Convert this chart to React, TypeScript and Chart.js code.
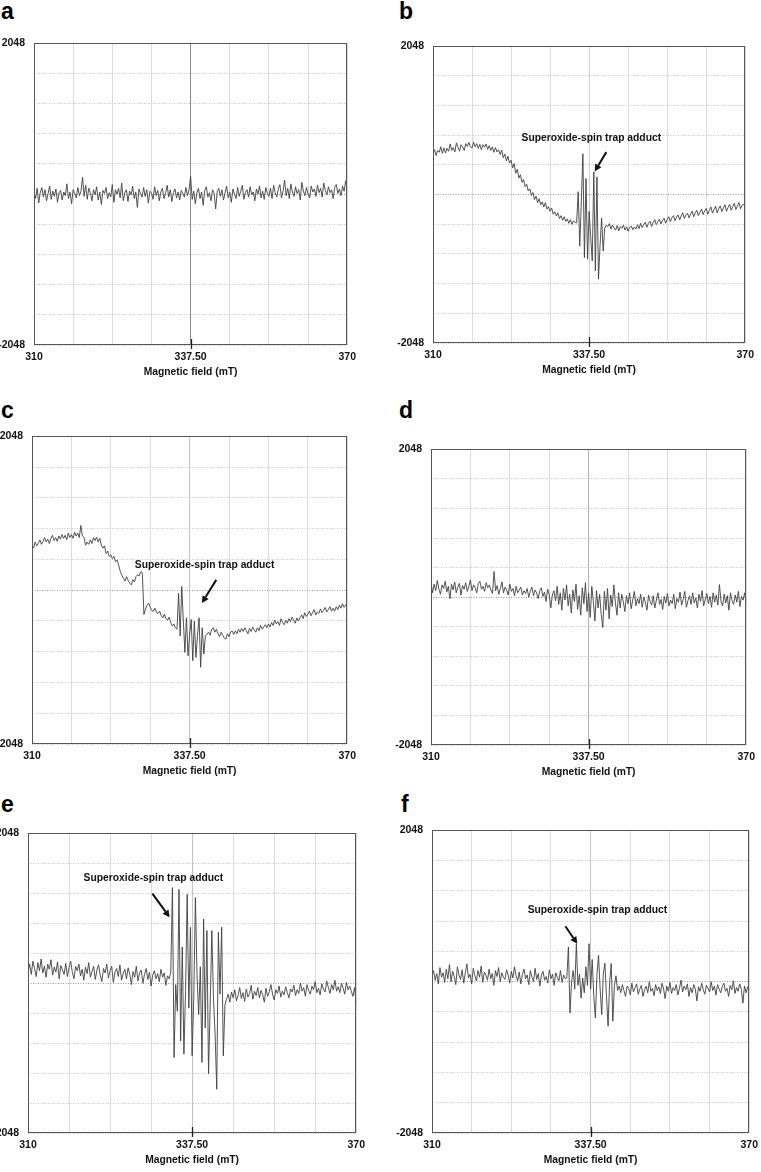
import React, { useEffect, useRef } from 'react';
import { Chart, registerables } from 'chart.js';

Chart.register(...registerables);

// ---------- data ----------
const X_TICK_LABELS = ['310', '337.50', '370'];
const Y_TICK_LABELS = ['-2048', '2048'];
const Y_MIN = -2048;
const Y_MAX = 2048;
const X_TITLE = 'Magnetic field (mT)';
const NOTE_TEXT = 'Superoxide-spin trap adduct';
const PANEL_LETTERS = ['a', 'b', 'c', 'd', 'e', 'f'];

// signal amplitude (a.u.) sampled evenly across the sweep (201 points each)
const SPECTRUM_A = [
  30, -60, 80, -120, 20, 90, -40, 60, -90, 10, 110, -70, 40, -30, 70, -110, 20, 50, -80, 30,
  -20, 140, -60, 30, -130, 60, 10, -50, 90, -20, 40, 230, -30, 120, -70, 80, 20, -90, 60, -10,
  100, -80, 30, -140, 50, 10, 90, -60, 20, -40, 130, -110, 60, 0, 80, -50, 150, -90, 20, 60,
  -100, 40, -10, 110, -60, 30, -180, 70, 10, -40, 90, -30, 60, -120, 40, 20, -70, 100, -20, 50,
  -90, 30, 80, -60, 10, 120, -40, 60, -100, 20, 70, -50, 30, -80, 50, 10, -40, 90, -20, 60,
  240, -70, 40, -130, 20, 80, -60, 30, -150, 50, 100, -40, 20, -90, 60, 10, -200, 40, 80, -30,
  60, -80, 20, 110, -50, 30, -110, 70, 0, -60, 90, -30, 40, 120, -70, 20, 60, -40, 100, -10,
  30, -90, 70, 0, 110, -50, 40, -70, 90, 10, -30, 80, -60, 120, 20, -40, 70, 130, -50, 40,
  190, -20, 80, -60, 140, 30, -30, 100, 10, 60, -80, 160, 40, -20, 90, 0, -50, 110, 30, 70,
  -30, 120, 20, 80, -40, 150, 50, -10, 100, 20, 60, -60, 90, 130, 10, 70, -20, 110, 40, 180,
  60,
];

const SPECTRUM_B = [
  560, 620, 540, 610, 585, 660, 570, 645, 575, 640, 600, 700, 610, 650, 590, 715, 655, 600, 690, 660,
  610, 705, 665, 720, 660, 645, 725, 660, 705, 640, 695, 620, 690, 655, 700, 625, 675, 610, 660, 585,
  650, 590, 620, 555, 615, 510, 560, 465, 530, 435, 475, 370, 430, 295, 350, 230, 275, 170, 210, 110,
  145, 50, 80, -10, 30, -70, -20, -110, -55, -140, -100, -170, -110, -200, -165, -230, -185, -270, -235, -295,
  -250, -330, -290, -355, -305, -370, -335, -395, -345, -410, -360, -385,
  -390, 41, -710, -100, 564, -870, 223, -891, -232, -580, -915, 314, -1051, 246, -1165, -700, -323, -778, -460, -420,
  -440, -400, -475, -420, -460, -490, -425, -500, -440, -465, -420, -490, -445, -505, -450, -435, -485, -445, -475, -415,
  -470, -395, -455, -415, -380, -450, -395, -365, -440, -385, -345, -415, -375, -340, -405, -355, -325, -395, -345, -305,
  -375, -320, -290, -360, -310, -280, -350, -295, -250, -330, -280, -255, -320, -265, -230, -305, -250, -215, -290, -245,
  -200, -275, -225, -190, -270, -215, -170, -255, -205, -160, -250, -195, -155, -235, -185, -140, -230, -175, -135, -215,
  -165, -120, -205, -155, -110, -195, -145, -135, -165,
];

const SPECTRUM_C = [
  598, 560, 640, 590, 620, 670, 610, 650, 700, 640, 680, 620, 690, 730, 660, 700, 650, 720, 680, 740,
  690, 730, 670, 760, 700, 740, 690, 770, 720, 760, 700, 861, 720, 700, 598, 640, 610, 670, 620, 700,
  660, 707, 640, 690, 600, 560, 590, 487, 520, 450, 470, 420, 450, 380, 400, 330, 250, 200, 158, 120,
  180, 130, 92, 70, 140, 110, 180, 203, 190, 246, 230, -324, -250, -200, -171, -230, -270, -281, -240, -300,
  -310, -280, -340, -369, -320, -380, -400, -360, -430, -478, -450, -500, -521,
  -40, -610, 49, -400, -830, -369, -873, -600, -390, -939, -412, -896, -600, -369, -1027, -500, -851, -610,
  -587, -560, -600, -520, -500, -560, -520, -580, -620, -560, -600, -640, -653, -580, -620, -560, -544, -590, -540, -580,
  -520, -560, -510, -550, -500, -540, -580, -510, -550, -490, -530, -560, -500, -540, -470, -520, -490, -460, -500, -450,
  -490, -430, -470, -400, -450, -420, -470, -380, -430, -460, -400, -440, -380, -420, -360, -400, -440, -370, -410, -369,
  -330, -380, -300, -350, -320, -280, -340, -300, -260, -330, -290, -310, -250, -300, -270, -230, -290, -260, -220, -280,
  -240, -281, -220, -260, -200, -240, -180, -230, -200, -171,
];

const SPECTRUM_D = [
  200, 60, 180, 90, 230, 110, 40, 170, 120, 220, 70, 150, -20, 180, 100, 210, 60, 140, 190, 30,
  160, 110, 200, 80, 150, 240, 90, 170, 130, 60, 190, 220, 110, 150, 80, 200, 130, 170, 100, 50,
  356, 90, 160, 40, 120, 210, 60, 140, 100, 30, 180, 80, 120, 20, 150, 60, 100, 140, 30, 90,
  50, 120, 0, 80, 140, 20, 100, 60, -20, 90, 130, 10, 70, -60, 110, 40, -150, 30, 90, -50,
  150, -100, 60, -180, 120, -40, 170, -120, 40, -220, 100, -60, 180, -170, 20, -250, 130, -90, 200, -200,
  60, -280, 150, -60, -330, 90, -150, 40, -240, -420, 80, -180, 120, -300, 30, -130, 170, -80, -250, 60,
  -150, 40, -60, -200, 20, -90, 60, -160, -40, 80, -120, -20, -90, 40, -140, 0, -70, -180, 30, -60,
  -110, 20, -150, -40, 60, -100, -30, -170, 10, -80, 50, -120, -40, -90, 40, -160, -20, -70, 70, -110,
  -30, 80, -140, -50, 20, -100, 60, -80, -10, -150, 40, -60, 90, -120, -30, 50, -90, 10, -140, 60,
  -70, 30, -110, 174, -60, -120, 40, -80, 20, -180, 60, -50, -100, 30, -70, 80, -130, 10, -40, 60,
  -90,
];

const SPECTRUM_E = [
  150, 260, 120, 300, 200, 90, 280, 170, 330, 140, 230, 80, 260, 190, 320, 110, 220, 150, 290, 60,
  240, 180, 120, 270, 90, 210, 300, 150, 60, 230, 170, 260, 100, 190, 40, 220, 130, 280, 80, 160,
  230, 50, 180, 250, 110, 20, 200, 140, 260, 70, 170, 230, 10, 150, 200, 90, 250, 40, 130, 190,
  60, 210, 120, -20, 160, 80, 230, 30, 140, 180, 0, 120, 200, 50, 150, -40, 110, 170, 60, 130,
  20, 190, 80, 140, -30, 100, 60, 150,
  1305, -1017, -20, -385, 1282, -791, 493, -971, -100, 1214, -341, 764, -994, -200, 1169, 100, -430, 223, -1084, 876,
  -611, 719, -1241, -300, 719, -200, -700, -1450, 696, -150, 764, -994, -295,
  -220, -150, -260, -120, -200, -90, -240, -170, -60, -210, -130, -250, -80, -190, -140, -30, -220, -110, -170, -60,
  -200, -100, -160, -260, -70, -180, -120, -20, -150, -230, -90, -140, -40, -190, -110, -160, -50, -130, -200, -80,
  -120, -30, -170, -90, -140, 0, -110, -60, -180, -20, -100, -150, -40, -90, 20, -130, -70, -160, -10, -80,
  -120, 30, -60, -140, -20, -90, 40, -110, -50, -130, 0, -70, -150, 10, -90, -40, -110, -180, -60, -290,
];

const SPECTRUM_F = [
  80, 150, 20, 110, -30, 190, 60, 120, -10, 170, 40, 230, 0, 140, 70, -40, 200, 90, 30, 160,
  -20, 120, 240, 50, 100, -30, 180, 80, 10, 150, 60, 210, -10, 130, 90, 20, 170, 40, 110, -50,
  150, 70, 190, 0, 120, 60, 30, 160, 90, -20, 140, 50, 200, 80, 10, 130, -30, 100, 170, 40,
  90, -40, 150, 60, 0, 180, 30, 110, -60, 90, 140, 20, 70, -20, 160, 40, 100, -50, 120, 60,
  10, 150, -10, 90, 40, 50,
  469, -424, 0, 150, -100, 513, -50, 100, -223, 50, -150, 200, -50, 513, -100, 300, -200, -491, 100, 357,
  -100, -446, 100, 250, -200, -603, 0, 245, -536, -50, 80, -120, -60,
  -150, -40, -120, -200, -60, -90, -180, -20, -140, -80, -30, -170, -100, -50, -200, -110, -60, -150, 0, -130,
  -90, -190, -40, -120, -70, -160, -20, -100, -230, -60, -130, -10, -160, -80, -120, -40, -180, -90, 20, -140,
  -60, -110, -30, -200, -80, -150, -40, -100, -260, -70, -130, -20, -110, -170, -50, -90, -140, 0, -120, -60,
  -180, -40, -100, -150, -70, -20, -130, -90, -200, -50, -110, 10, -160, -80, -130, -30, -100, -290, -60, -150, -70, -120,
];

// ---------- layout ----------
const FONT = '"Liberation Sans", Arial, Helvetica, sans-serif';
const Y_AXIS_W = 36;
const X_AXIS_H = 33;
const PAD_T = 12;
const PAD_R = 14;
const X_STEPS = 200;

type Note = { tx: number; ty: number; ax0: number; ay0: number; ax1: number; ay1: number };
type Panel = {
  letter: string;
  data: number[];
  rect: { l: number; t: number; r: number; b: number };
  letterPos: { x: number; y: number };
  vCenter: string;
  note?: Note;
};

const PANELS: Panel[] = [
  { letter: PANEL_LETTERS[0], data: SPECTRUM_A, rect: { l: 34, t: 40, r: 348, b: 345 }, letterPos: { x: 1, y: 0 }, vCenter: '#8a8a8a' },
  { letter: PANEL_LETTERS[1], data: SPECTRUM_B, rect: { l: 433, t: 43, r: 746, b: 343 }, letterPos: { x: 399, y: 0 }, vCenter: '#cfcfcf',
    note: { tx: 101.4, ty: 778, ax0: 111, ay0: 587, ax1: 103.6, ay1: 320 } },
  { letter: PANEL_LETTERS[2], data: SPECTRUM_C, rect: { l: 32, t: 433, r: 348, b: 744 }, letterPos: { x: 1, y: 399 }, vCenter: '#c4c4c4',
    note: { tx: 109.5, ty: 335, ax0: 116.9, ay0: 137, ax1: 107.8, ay1: -171 } },
  { letter: PANEL_LETTERS[3], data: SPECTRUM_D, rect: { l: 431, t: 446, r: 747, b: 745 }, letterPos: { x: 399, y: 399 }, vCenter: '#b0b0b0' },
  { letter: PANEL_LETTERS[4], data: SPECTRUM_E, rect: { l: 28, t: 830, r: 357, b: 1133 }, letterPos: { x: 1, y: 793 }, vCenter: '#c4c4c4',
    note: { tx: 76.4, ty: 1430, ax0: 75.8, ay0: 1224, ax1: 86.3, ay1: 899 } },
  { letter: PANEL_LETTERS[5], data: SPECTRUM_F, rect: { l: 432, t: 827, r: 750, b: 1133 }, letterPos: { x: 401, y: 793 }, vCenter: '#c4c4c4',
    note: { tx: 104.3, ty: 968, ax0: 84.1, ay0: 750, ax1: 91.6, ay1: 513 } },
];

const eprPlugin = {
  id: 'epr',
  afterDraw(chart: any, _args: any, opts: any) {
    const { ctx, chartArea: ca, scales } = chart;
    const xs = scales.x;
    const ys = scales.y;
    ctx.save();
    ctx.strokeStyle = '#555';
    ctx.lineWidth = 1;
    ctx.strokeRect(Math.round(ca.left) + 0.5, Math.round(ca.top) + 0.5, Math.round(ca.width) - 1, Math.round(ca.height) - 1);
    const cx = Math.round(xs.getPixelForValue(X_STEPS / 2)) + 0.5;
    ctx.strokeStyle = '#222';
    ctx.lineWidth = 1.3;
    ctx.beginPath();
    ctx.moveTo(cx, ca.bottom - 6);
    ctx.lineTo(cx, ca.bottom + 4);
    ctx.stroke();
    const note: Note | undefined = opts && opts.note;
    if (note) {
      ctx.fillStyle = '#111';
      ctx.font = `bold 10.3px ${FONT}`;
      ctx.textAlign = 'center';
      ctx.textBaseline = 'middle';
      ctx.fillText(NOTE_TEXT, xs.getPixelForValue(note.tx), ys.getPixelForValue(note.ty));
      const x0 = xs.getPixelForValue(note.ax0);
      const y0 = ys.getPixelForValue(note.ay0);
      const x1 = xs.getPixelForValue(note.ax1);
      const y1 = ys.getPixelForValue(note.ay1);
      const ang = Math.atan2(y1 - y0, x1 - x0);
      const hl = 7;
      const hw = 3.6;
      const bx = x1 - hl * Math.cos(ang);
      const by = y1 - hl * Math.sin(ang);
      ctx.strokeStyle = '#111';
      ctx.lineWidth = 2;
      ctx.beginPath();
      ctx.moveTo(x0, y0);
      ctx.lineTo(bx, by);
      ctx.stroke();
      ctx.beginPath();
      ctx.moveTo(x1, y1);
      ctx.lineTo(bx + hw * Math.sin(ang), by - hw * Math.cos(ang));
      ctx.lineTo(bx - hw * Math.sin(ang), by + hw * Math.cos(ang));
      ctx.closePath();
      ctx.fill();
    }
    ctx.restore();
  },
};

function SpectrumChart({ panel }: { panel: Panel }) {
  const ref = useRef<HTMLCanvasElement>(null);
  const { l, t, r, b } = panel.rect;
  const W = r - l + Y_AXIS_W + PAD_R;
  const H = b - t + PAD_T + X_AXIS_H;

  useEffect(() => {
    const n = panel.data.length;
    const points = panel.data.map((y, i) => ({ x: (i * X_STEPS) / (n - 1), y }));
    const chart = new Chart(ref.current as HTMLCanvasElement, {
      type: 'line',
      data: {
        datasets: [
          {
            data: points,
            borderColor: '#404040',
            borderWidth: 0.9,
            pointRadius: 0,
            tension: 0,
            fill: false,
          },
        ],
      },
      options: {
        animation: false,
        responsive: false,
        maintainAspectRatio: false,
        events: [],
        layout: { padding: { left: 0, top: PAD_T, right: PAD_R, bottom: 0 } },
        plugins: {
          legend: { display: false },
          tooltip: { enabled: false },
          epr: { note: panel.note },
        } as any,
        scales: {
          x: {
            type: 'linear',
            min: 0,
            max: X_STEPS,
            afterFit: (s: any) => {
              s.height = X_AXIS_H;
            },
            afterBuildTicks: (s: any) => {
              s.ticks = [0, 1, 2, 3, 4, 5, 6, 7, 8].map((k) => ({ value: (k * X_STEPS) / 8 }));
            },
            ticks: {
              autoSkip: false,
              maxRotation: 0,
              padding: 6,
              color: '#111',
              font: { family: FONT, size: 10.5, weight: 'bold' },
              callback: (v: any) =>
                v === 0 ? X_TICK_LABELS[0] : v === X_STEPS / 2 ? X_TICK_LABELS[1] : v === X_STEPS ? X_TICK_LABELS[2] : '',
            },
            grid: {
              drawTicks: false,
              lineWidth: 1,
              color: (c: any) => (c.tick && c.tick.value === X_STEPS / 2 ? panel.vCenter : '#dcdcdc'),
            },
            border: { display: false },
            title: {
              display: true,
              text: X_TITLE,
              color: '#111',
              font: { family: FONT, size: 10.3, weight: 'bold' },
              padding: { top: 0, bottom: 0 },
            },
          },
          y: {
            type: 'linear',
            min: Y_MIN,
            max: Y_MAX,
            afterFit: (s: any) => {
              s.width = Y_AXIS_W;
            },
            afterBuildTicks: (s: any) => {
              s.ticks = [0, 1, 2, 3, 4, 5, 6, 7, 8, 9, 10].map((k) => ({ value: Y_MIN + ((Y_MAX - Y_MIN) * k) / 10 }));
            },
            ticks: {
              autoSkip: false,
              padding: 9,
              color: '#111',
              font: { family: FONT, size: 10.5, weight: 'bold' },
              callback: (v: any) =>
                Math.abs(v - Y_MAX) < 1 ? Y_TICK_LABELS[1] : Math.abs(v - Y_MIN) < 1 ? Y_TICK_LABELS[0] : '',
            },
            grid: {
              drawTicks: false,
              lineWidth: 1,
              color: (c: any) => (c.tick && Math.abs(c.tick.value) < 1 ? '#9a9a9a' : '#c6c6c6'),
            },
            border: { display: false, dash: [1, 1.5] },
          },
        },
      },
      plugins: [eprPlugin],
    });
    return () => chart.destroy();
  }, [panel]);

  return (
    <canvas
      ref={ref}
      width={W}
      height={H}
      style={{ position: 'absolute', left: l - Y_AXIS_W, top: t - PAD_T, width: W, height: H }}
    />
  );
}

export default function App() {
  return (
    <div style={{ position: 'absolute', left: 0, top: 0, width: 761, height: 1172, background: '#fff', overflow: 'hidden' }}>
      {PANELS.map((p) => (
        <React.Fragment key={p.letter}>
          <span
            style={{
              position: 'absolute',
              left: p.letterPos.x,
              top: p.letterPos.y,
              fontFamily: FONT,
              fontWeight: 'bold',
              fontSize: 23,
              lineHeight: '22px',
              color: '#000',
            }}
          >
            {p.letter}
          </span>
          <SpectrumChart panel={p} />
        </React.Fragment>
      ))}
    </div>
  );
}
